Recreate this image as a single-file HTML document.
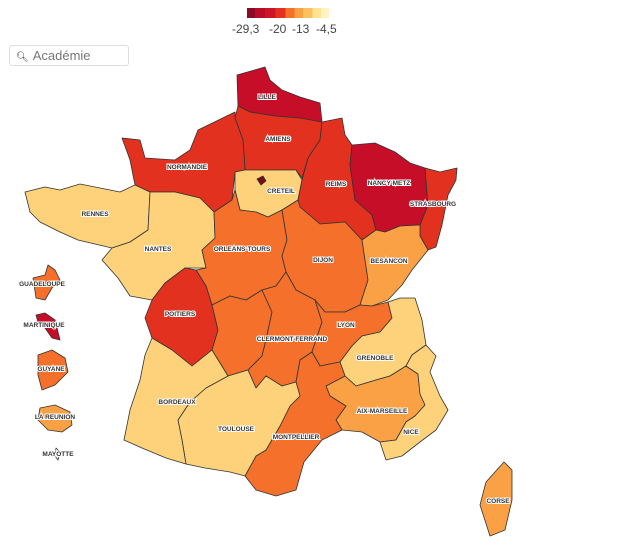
<!DOCTYPE html>
<html><head><meta charset="utf-8"><style>
body{margin:0;width:625px;height:548px;background:#fff;overflow:hidden;font-family:"Liberation Sans",sans-serif}
.search{position:absolute;left:9px;top:45px;width:118px;height:19px;border:1px solid #ddd;border-radius:3px;font-size:13px;color:#777;line-height:19px}
.lg{position:absolute;top:22px;font-size:12px;color:#444}
svg{position:absolute;left:0;top:0}
svg path{stroke:#333;stroke-width:0.8;stroke-linejoin:round}
svg text{font-family:"Liberation Sans",sans-serif;font-size:6.5px;font-weight:bold;fill:#333;text-anchor:middle;paint-order:stroke;stroke:#fff;stroke-width:2px}
</style></head><body>
<div style="position:absolute;left:247px;top:8px;width:82px;height:10px;background:linear-gradient(90deg,#8b0a25 0,#8b0a25 10%,#b80c27 10%,#b80c27 22%,#cc1526 22%,#cc1526 35%,#e2321f 35%,#e2321f 47%,#f4702b 47%,#f4702b 58%,#f9a144 58%,#f9a144 68%,#fbc060 68%,#fbc060 80%,#fde38f 80%,#fde38f 90%,#fff3c2 90%)"></div>
<div class="lg" style="left:232px">-29,3</div>
<div class="lg" style="left:269px">-20</div>
<div class="lg" style="left:292px">-13</div>
<div class="lg" style="left:316px">-4,5</div>
<div class="search"><span style="font-size:10px;color:#333;margin:0 4px 0 6px">&#x1F50D;&#xFE0E;</span>Académie</div>
<svg width="625" height="548" viewBox="0 0 625 548">
<g>
<path fill="#c70e29" d="M237,75 L265,67 L270,80 L282,90 L300,97 L320,103 L322,122 L300,118 L275,116 L250,112 L238,106 Z"/>
<path fill="#e2321f" d="M238,106 L250,112 L275,116 L300,118 L322,122 L320,140 L308,158 L302,178 L296,170 L270,170 L245,170 L243,140 L235,118 Z"/>
<path fill="#e2321f" d="M122,138 L140,140 L145,158 L175,160 L190,150 L198,130 L235,112 L235,118 L243,140 L245,170 L235,172 L232,200 L214,212 L200,198 L175,192 L150,192 L135,185 L130,160 Z"/>
<path fill="#fdd27a" d="M235,172 L245,170 L270,170 L296,170 L302,180 L298,200 L282,210 L268,217 L256,212 L240,210 L235,190 Z"/>
<path fill="#7a0a18" d="M257,179 L263,176 L266,181 L261,185 Z"/>
<path fill="#e2321f" d="M308,158 L320,140 L322,122 L342,118 L345,135 L352,145 L350,165 L355,200 L372,215 L376,230 L362,240 L345,222 L320,224 L300,207 L298,200 L302,180 Z"/>
<path fill="#c70e29" d="M352,145 L375,143 L395,152 L410,163 L425,168 L428,205 L420,225 L400,226 L385,232 L376,230 L372,215 L355,200 L350,165 Z"/>
<path fill="#e2321f" d="M425,168 L440,172 L457,168 L456,180 L448,195 L442,225 L436,247 L428,250 L420,236 L420,225 L428,205 Z"/>
<path fill="#fdd27a" d="M25,192 L45,187 L60,190 L80,184 L100,188 L120,192 L135,185 L150,192 L148,230 L130,242 L112,248 L95,244 L78,240 L60,232 L40,222 L30,212 Z"/>
<path fill="#fdd27a" d="M150,192 L175,192 L200,198 L214,212 L215,238 L202,250 L206,268 L185,268 L165,283 L152,300 L130,296 L118,278 L102,260 L112,248 L130,242 L148,230 Z"/>
<path fill="#f4702b" d="M214,212 L232,200 L235,190 L240,210 L256,212 L268,217 L282,210 L287,240 L282,256 L286,272 L276,286 L262,290 L246,300 L230,296 L212,305 L206,286 L196,270 L206,268 L202,250 L215,238 Z"/>
<path fill="#e2321f" d="M165,283 L185,268 L196,270 L206,286 L212,305 L218,330 L212,350 L192,366 L172,350 L152,338 L145,318 L152,300 Z"/>
<path fill="#f4702b" d="M212,305 L230,296 L246,300 L262,290 L272,312 L266,340 L262,356 L248,370 L228,376 L212,350 L218,330 Z"/>
<path fill="#f4702b" d="M282,210 L298,200 L300,207 L320,224 L345,222 L362,240 L368,280 L360,305 L345,312 L325,312 L315,300 L296,290 L286,272 L282,256 L287,240 Z"/>
<path fill="#f9a144" d="M362,240 L376,230 L385,232 L400,226 L420,225 L420,236 L428,250 L412,270 L402,285 L388,300 L372,306 L360,305 L368,280 Z"/>
<path fill="#f4702b" d="M262,290 L276,286 L286,272 L296,290 L315,300 L322,322 L316,340 L312,352 L300,360 L296,382 L282,386 L266,376 L256,388 L248,370 L262,356 L266,340 L272,312 Z"/>
<path fill="#f4702b" d="M315,300 L325,312 L345,312 L360,305 L372,306 L388,302 L392,318 L380,332 L362,336 L352,346 L340,362 L320,366 L312,352 L316,340 L322,322 Z"/>
<path fill="#fdd27a" d="M388,302 L400,298 L415,298 L422,320 L426,345 L412,355 L406,366 L390,376 L376,380 L356,386 L345,376 L340,362 L352,346 L362,336 L380,332 L392,318 Z"/>
<path fill="#f9a144" d="M406,366 L418,374 L420,394 L425,405 L415,416 L406,422 L396,440 L380,442 L362,432 L342,430 L336,420 L346,406 L330,396 L326,386 L345,376 L356,386 L376,380 L390,376 Z"/>
<path fill="#fdd27a" d="M426,345 L436,356 L430,372 L440,396 L448,410 L436,430 L420,442 L402,456 L386,460 L380,442 L396,440 L406,422 L415,416 L425,405 L420,394 L418,374 L406,366 L412,355 Z"/>
<path fill="#f4702b" d="M296,382 L300,360 L312,352 L320,366 L340,362 L345,376 L326,386 L330,396 L346,406 L336,420 L342,430 L322,440 L304,462 L296,490 L276,496 L256,490 L245,476 L256,456 L266,450 L280,426 L290,406 L300,396 Z"/>
<path fill="#fdd27a" d="M228,376 L248,370 L256,388 L266,376 L282,386 L296,382 L300,396 L290,406 L280,426 L266,450 L256,456 L245,476 L230,472 L205,468 L186,464 L182,440 L178,420 L190,402 L206,388 Z"/>
<path fill="#fdd27a" d="M145,355 L152,338 L172,350 L192,366 L212,350 L228,376 L206,388 L190,402 L178,420 L182,440 L186,464 L166,458 L142,448 L124,440 L130,410 L140,380 Z"/>
<path fill="#f9a144" d="M486,482 L504,462 L512,470 L512,500 L505,530 L490,536 L480,505 Z"/>
<path fill="#f4702b" d="M33,278 L45,275 L48,265 L55,270 L60,280 L52,288 L45,300 L36,298 Z"/>
<path fill="#c70e29" d="M36,315 L45,313 L55,320 L58,332 L60,340 L52,338 L45,328 L38,322 Z"/>
<path fill="#f4702b" d="M38,355 L52,350 L65,358 L68,372 L55,385 L42,390 L38,375 Z"/>
<path fill="#f9a144" d="M40,408 L55,405 L70,412 L72,425 L62,432 L48,430 L38,420 Z"/>
<path fill="#fff" d="M56,448 L60,452 L58,460 L55,456 Z"/>
</g>
<text x="267" y="99">LILLE</text>
<text x="278" y="141">AMIENS</text>
<text x="187" y="169">NORMANDIE</text>
<text x="281" y="193">CRETEIL</text>
<text x="336" y="186">REIMS</text>
<text x="389" y="185">NANCY-METZ</text>
<text x="433" y="206">STRASBOURG</text>
<text x="95" y="216">RENNES</text>
<text x="158" y="251">NANTES</text>
<text x="242" y="251">ORLEANS-TOURS</text>
<text x="323" y="262">DIJON</text>
<text x="389" y="263">BESANCON</text>
<text x="180" y="316">POITIERS</text>
<text x="346" y="327">LYON</text>
<text x="292" y="341">CLERMONT-FERRAND</text>
<text x="375" y="360">GRENOBLE</text>
<text x="177" y="404">BORDEAUX</text>
<text x="382" y="413">AIX-MARSEILLE</text>
<text x="236" y="431">TOULOUSE</text>
<text x="411" y="434">NICE</text>
<text x="296" y="439">MONTPELLIER</text>
<text x="42" y="286">GUADELOUPE</text>
<text x="44" y="327">MARTINIQUE</text>
<text x="51" y="371">GUYANE</text>
<text x="55" y="419">LA REUNION</text>
<text x="58" y="456">MAYOTTE</text>
<text x="498" y="503">CORSE</text>
</svg>
</body></html>
